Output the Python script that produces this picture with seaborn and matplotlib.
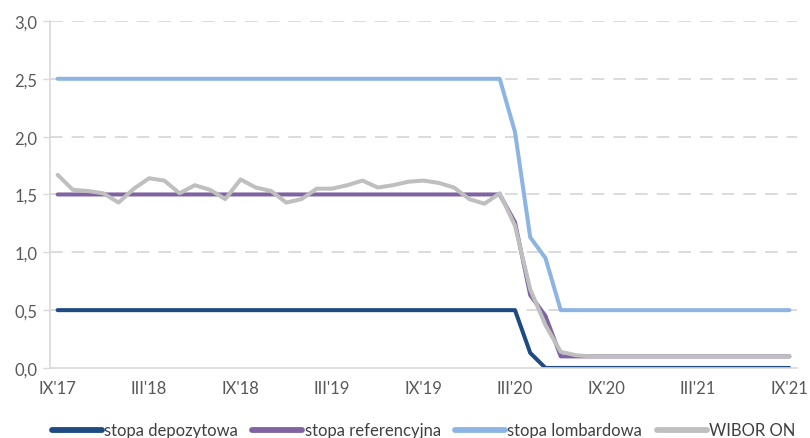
import numpy as np
import pandas as pd
import matplotlib
matplotlib.use("Agg")
import matplotlib.pyplot as plt
from matplotlib.ticker import FixedLocator, FuncFormatter
import seaborn as sns

# Monthly observations, IX'17 .. IX'21
months = pd.period_range("2017-09", "2021-09", freq="M")
roman = {3: "III", 9: "IX"}
tick_labels = [f"{roman[m.month]}'{str(m.year)[2:]}" for m in months if m.month in (3, 9)]
tick_pos = [i for i, m in enumerate(months) if m.month in (3, 9)]

stopa_depozytowa = [0.5] * 31 + [0.13] + [0.0] * 17
stopa_referencyjna = [1.5] * 30 + [1.26, 0.63, 0.45] + [0.1] * 16
stopa_lombardowa = [2.5] * 30 + [2.04, 1.13, 0.95] + [0.5] * 16
wibor_on = [1.67, 1.54, 1.53, 1.51, 1.43, 1.55, 1.64, 1.62, 1.51, 1.58,
            1.54, 1.46, 1.63, 1.56, 1.53, 1.43, 1.46, 1.55, 1.55, 1.58,
            1.62, 1.56, 1.58, 1.61, 1.62, 1.60, 1.56, 1.46, 1.42, 1.51,
            1.23, 0.68, 0.37, 0.14, 0.11, 0.10, 0.10, 0.10, 0.10, 0.10,
            0.10, 0.10, 0.10, 0.10, 0.10, 0.10, 0.10, 0.10, 0.10]

series = {
    "stopa depozytowa": stopa_depozytowa,
    "stopa referencyjna": stopa_referencyjna,
    "stopa lombardowa": stopa_lombardowa,
    "WIBOR ON": wibor_on,
}
colors = ["#1f4a82", "#8064a2", "#8db4e2", "#bfbfbf"]

df = pd.concat(
    [pd.DataFrame({"x": np.arange(len(months)), "value": v, "series": k})
     for k, v in series.items()],
    ignore_index=True,
)

sns.set_theme(style="white")
plt.rcParams["font.family"] = ["Lato", "DejaVu Sans"]

fig = plt.figure(figsize=(8.1, 4.39), dpi=100)
ax = fig.add_axes([0.0617, 0.1595, 0.9223, 0.7905])

sns.lineplot(data=df, x="x", y="value", hue="series", palette=colors,
             linewidth=2.9, ax=ax, legend=True)

ax.set_xlim(-0.5, len(months) - 0.5)
ax.set_ylim(0, 3.0)
ax.set_xlabel("")
ax.set_ylabel("")

# y axis
ax.set_yticks(np.arange(0, 3.01, 0.5))
ax.yaxis.set_major_formatter(FuncFormatter(lambda v, p: f"{v:.1f}".replace(".", ",")))
for y in np.arange(0.5, 3.01, 0.5):
    ax.axhline(y, color="#d9d9d9", lw=1.3, dashes=(7, 5), zorder=0)

# x axis: labels at category centers, tick marks at category boundaries
ax.set_xticks(tick_pos)
ax.set_xticklabels(tick_labels)
ax.xaxis.set_minor_locator(FixedLocator(np.arange(-0.5, len(months), 1.0)))
ax.tick_params(axis="x", which="major", length=0, pad=9, labelsize=12, labelcolor="#595959")
ax.tick_params(axis="x", which="minor", length=4, width=1, color="#d9d9d9", direction="out")
ax.tick_params(axis="y", which="major", length=5, width=1, color="#d9d9d9", pad=4,
               labelsize=12, labelcolor="#595959", left=True)

for side in ("top", "right"):
    ax.spines[side].set_visible(False)
for side in ("left", "bottom"):
    ax.spines[side].set_color("#d9d9d9")
    ax.spines[side].set_linewidth(1.2)

leg = ax.legend(loc="center", bbox_to_anchor=(0.5, -0.18), ncol=4, frameon=False,
                fontsize=12, handlelength=3.0, handletextpad=0.15, columnspacing=0.85,
                borderaxespad=0, borderpad=0)
for t in leg.get_texts():
    t.set_color("#404040")
for h in leg.get_lines():
    h.set_linewidth(4.2)

fig.savefig("out.png", dpi=100)
